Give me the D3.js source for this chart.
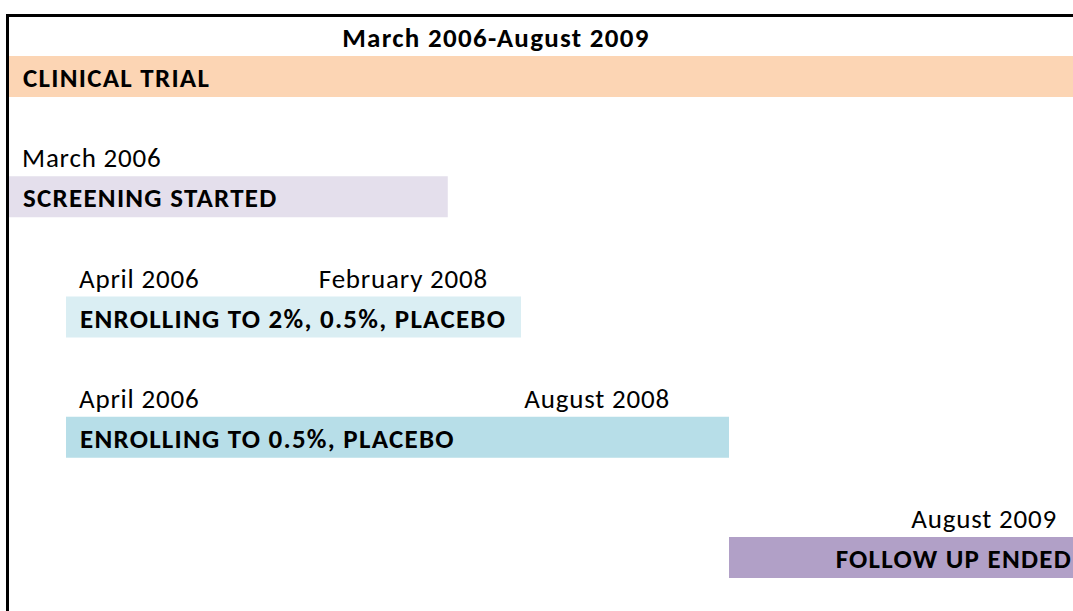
<!DOCTYPE html>
<html>
<head>
<meta charset="utf-8">
<script src="https://cdn.jsdelivr.net/npm/d3@7"></script>
<style>
  html, body { margin: 0; padding: 0; background: #fff; overflow: hidden; }
  svg { display: block; font-family: Carlito, Calibri, Lato, "Open Sans", sans-serif; }
</style>
</head>
<body>
<svg id="chart" width="1073" height="611"></svg>
<script>
// ---- data ----
const title = "March 2006-August 2009";
const tasks = ["CLINICAL TRIAL", "SCREENING STARTED", "ENROLLING TO 2%, 0.5%, PLACEBO", "ENROLLING TO 0.5%, PLACEBO", "FOLLOW UP ENDED"];
const startDates = ["2006-03-01", "2006-03-01", "2006-04-01", "2006-04-01", "2008-08-01"];
const endDates   = ["2009-08-01", "2007-10-16", "2008-02-01", "2008-08-01", "2009-08-01"];
const startLabels = ["", "March 2006", "April 2006", "April 2006", ""];
const endLabels   = ["", "", "February 2008", "August 2008", "August 2009"];
const colors = ["#FCD5B4", "#E4DFEC", "#DAEEF3", "#B7DEE8", "#B1A0C7"];

// ---- layout ----
const W = 1073, H = 611;
const parse = d3.timeParse("%Y-%m-%d");
const svg = d3.select("#chart");

// piecewise time scale (diagram is not drawn to uniform time)
const x = d3.scaleTime()
  .domain(["2006-03-01", "2006-04-01", "2008-02-01", "2008-08-01", "2009-08-01"].map(parse))
  .range([9, 66, 521, 729, 1100]);

const y = d3.scalePoint().domain(tasks).range([56, 537]);
const barH = 41;
const endLabelX = [null, null, 488, 670, 1057];
const labelAlignRight = [false, false, false, false, true];
const FS = 27, LS = 0.8, LSB = 1.25;

const rows = tasks.map((t, i) => ({
  task: t, i,
  s: parse(startDates[i]), e: parse(endDates[i]),
  sl: startLabels[i], el: endLabels[i], c: colors[i]
}));

// bars
svg.selectAll("rect.bar").data(rows).join("rect")
  .attr("class", "bar")
  .attr("x", d => x(d.s))
  .attr("y", d => y(d.task))
  .attr("width", d => x(d.e) - x(d.s))
  .attr("height", barH)
  .attr("fill", d => d.c);

// bar labels
svg.selectAll("text.task").data(rows).join("text")
  .attr("class", "task")
  .attr("x", d => labelAlignRight[d.i] ? W - 1 : x(d.s) + 14)
  .attr("y", d => y(d.task) + 31)
  .attr("text-anchor", d => labelAlignRight[d.i] ? "end" : "start")
  .attr("font-weight", "bold")
  .attr("font-size", FS)
  .attr("letter-spacing", LSB)
  .attr("fill", "#000")
  .text(d => d.task);

// start labels
svg.selectAll("text.sl").data(rows.filter(d => d.sl)).join("text")
  .attr("class", "sl")
  .attr("x", d => x(d.s) + 13)
  .attr("y", d => y(d.task) - 9)
  .attr("font-size", FS)
  .attr("letter-spacing", LS)
  .attr("fill", "#000")
  .text(d => d.sl);

// end labels
svg.selectAll("text.el").data(rows.filter(d => d.el)).join("text")
  .attr("class", "el")
  .attr("x", d => endLabelX[d.i])
  .attr("y", d => y(d.task) - 9)
  .attr("text-anchor", "end")
  .attr("font-size", FS)
  .attr("letter-spacing", LS)
  .attr("fill", "#000")
  .text(d => d.el);

// title
svg.append("text")
  .attr("x", 496).attr("y", 47)
  .attr("text-anchor", "middle")
  .attr("font-weight", "bold")
  .attr("font-size", FS)
  .attr("letter-spacing", 1.3)
  .text(title);

// frame (top and left borders)
svg.append("path")
  .attr("d", `M7.5,${H}V15.5H${W}`)
  .attr("fill", "none")
  .attr("stroke", "#000")
  .attr("stroke-width", 3);
</script>
</body>
</html>
